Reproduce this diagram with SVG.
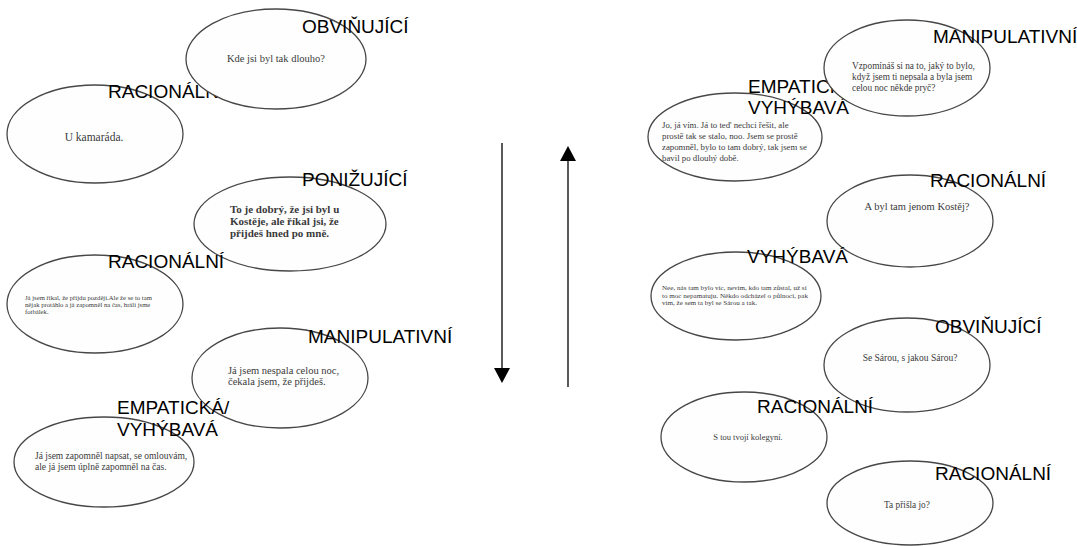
<svg xmlns="http://www.w3.org/2000/svg" width="1077" height="546" viewBox="0 0 1077 546">
<style>
.bub{fill:#fefefe;stroke:#474747;stroke-width:1.3}
.lab{font-family:"Liberation Sans",Arial,sans-serif;font-size:19px;fill:#000}
.t{font-family:"Liberation Serif","Times New Roman",serif;fill:#3a3a3a}
.c{text-anchor:middle}
</style>
<defs>
<marker id="ah" viewBox="0 0 16 16" refX="0" refY="8" markerWidth="16" markerHeight="16" markerUnits="userSpaceOnUse" orient="auto">
<path d="M0,0 L15,8 L0,16 Z" fill="#000"/>
</marker>
</defs>
<rect width="1077" height="546" fill="#fff"/>

<g id="n2">
<ellipse class="bub" cx="95" cy="134" rx="88" ry="49"/>
<text class="t c" x="94" y="141" font-size="11.5">U kamaráda.</text>
<text class="lab" x="108" y="98" font-size="20">RACIONÁLNÍ</text>
</g>
<g id="n1">
<ellipse class="bub" cx="276" cy="59" rx="90" ry="50"/>
<text class="t c" x="276" y="62" font-size="10.5">Kde jsi byl tak dlouho?</text>
<text class="lab" x="302" y="33">OBVIŇUJÍCÍ</text>
</g>
<g id="n3">
<ellipse class="bub" cx="290" cy="224" rx="96" ry="47"/>
<text class="t" x="230" y="213" font-size="11" font-weight="bold"><tspan x="230">To je dobrý, že jsi byl u</tspan><tspan x="230" dy="12">Kostěje, ale říkal jsi, že</tspan><tspan x="230" dy="12">přijdeš hned po mně.</tspan></text>
<text class="lab" x="302" y="186">PONIŽUJÍCÍ</text>
</g>
<g id="n4">
<ellipse class="bub" cx="95" cy="304" rx="88" ry="49"/>
<text class="t" x="25" y="300" font-size="6.7"><tspan x="25">Já jsem říkal, že přijdu později.Ale že se to tam</tspan><tspan x="25" dy="7">nějak protáhlo a já zapomněl na čas, hráli jsme</tspan><tspan x="25" dy="7">fotbálek.</tspan></text>
<text class="lab" x="108" y="268" font-size="20">RACIONÁLNÍ</text>
</g>
<g id="n5">
<ellipse class="bub" cx="280" cy="378" rx="88" ry="50"/>
<text class="t" x="228" y="374" font-size="10.5"><tspan x="228">Já jsem nespala celou noc,</tspan><tspan x="228" dy="11">čekala jsem, že přijdeš.</tspan></text>
<text class="lab" x="308" y="343">MANIPULATIVNÍ</text>
</g>
<g id="n6">
<ellipse class="bub" cx="104" cy="462" rx="90" ry="45"/>
<text class="t" x="35" y="459" font-size="9.5"><tspan x="35">Já jsem zapomněl napsat, se omlouvám,</tspan><tspan x="35" dy="11">ale já jsem úplně zapomněl na čas.</tspan></text>
<text class="lab" x="117" y="414"><tspan x="117">EMPATICKÁ/</tspan><tspan x="117" dy="22">VYHÝBAVÁ</tspan></text>
</g>

<g id="r2">
<ellipse class="bub" cx="735" cy="137" rx="87" ry="44"/>
<text class="t" x="662" y="128" font-size="8.8"><tspan x="662">Jo, já vím.  Já to teď nechci řešit, ale</tspan><tspan x="662" dy="11">prostě tak se stalo, noo. Jsem se prostě</tspan><tspan x="662" dy="11">zapomněl, bylo to tam dobrý, tak jsem se</tspan><tspan x="662" dy="11">bavil po dlouhý době.</tspan></text>
<text class="lab" x="748" y="93"><tspan x="748">EMPATICKÁ/</tspan><tspan x="748" dy="21">VYHÝBAVÁ</tspan></text>
</g>
<g id="r1">
<ellipse class="bub" cx="907" cy="68" rx="83" ry="48"/>
<text class="t" x="852" y="69" font-size="9.3"><tspan x="852">Vzpomínáš si na to, jaký to bylo,</tspan><tspan x="852" dy="11">když jsem ti nepsala a byla jsem</tspan><tspan x="852" dy="11">celou noc někde pryč?</tspan></text>
<text class="lab" x="933" y="43">MANIPULATIVNÍ</text>
</g>
<g id="r3">
<ellipse class="bub" cx="910" cy="221" rx="83" ry="46"/>
<text class="t c" x="917" y="210" font-size="10.5">A byl tam jenom Kostěj?</text>
<text class="lab" x="930" y="187">RACIONÁLNÍ</text>
</g>
<g id="r4">
<ellipse class="bub" cx="736" cy="296" rx="85" ry="44"/>
<text class="t" x="662" y="290" font-size="7.1"><tspan x="662">Nee, nás tam bylo víc, nevím, kdo tam zůstal, už si</tspan><tspan x="662" dy="7.5">to moc nepamatuju. Někdo odcházel o půlnoci, pak</tspan><tspan x="662" dy="7.5">vím, že sem ta byl se Sárou a tak.</tspan></text>
<text class="lab" x="747" y="263">VYHÝBAVÁ</text>
</g>
<g id="r5">
<ellipse class="bub" cx="907" cy="365" rx="83" ry="47"/>
<text class="t c" x="910" y="361" font-size="9.5">Se Sárou, s jakou Sárou?</text>
<text class="lab" x="935" y="333">OBVIŇUJÍCÍ</text>
</g>
<g id="r6">
<ellipse class="bub" cx="744" cy="437" rx="83" ry="45"/>
<text class="t c" x="748" y="440" font-size="8.5">S tou tvojí kolegyní.</text>
<text class="lab" x="757" y="413">RACIONÁLNÍ</text>
</g>
<g id="r7">
<ellipse class="bub" cx="910" cy="503" rx="83" ry="42"/>
<text class="t c" x="907" y="508" font-size="9.3">Ta přišla jo?</text>
<text class="lab" x="935" y="480">RACIONÁLNÍ</text>
</g>

<g id="connectors" stroke="#000" stroke-width="1.3" fill="none">
<line x1="502" y1="143" x2="502" y2="368" marker-end="url(#ah)"/>
<line x1="568" y1="387" x2="568" y2="161" marker-end="url(#ah)"/>
</g>
</svg>
